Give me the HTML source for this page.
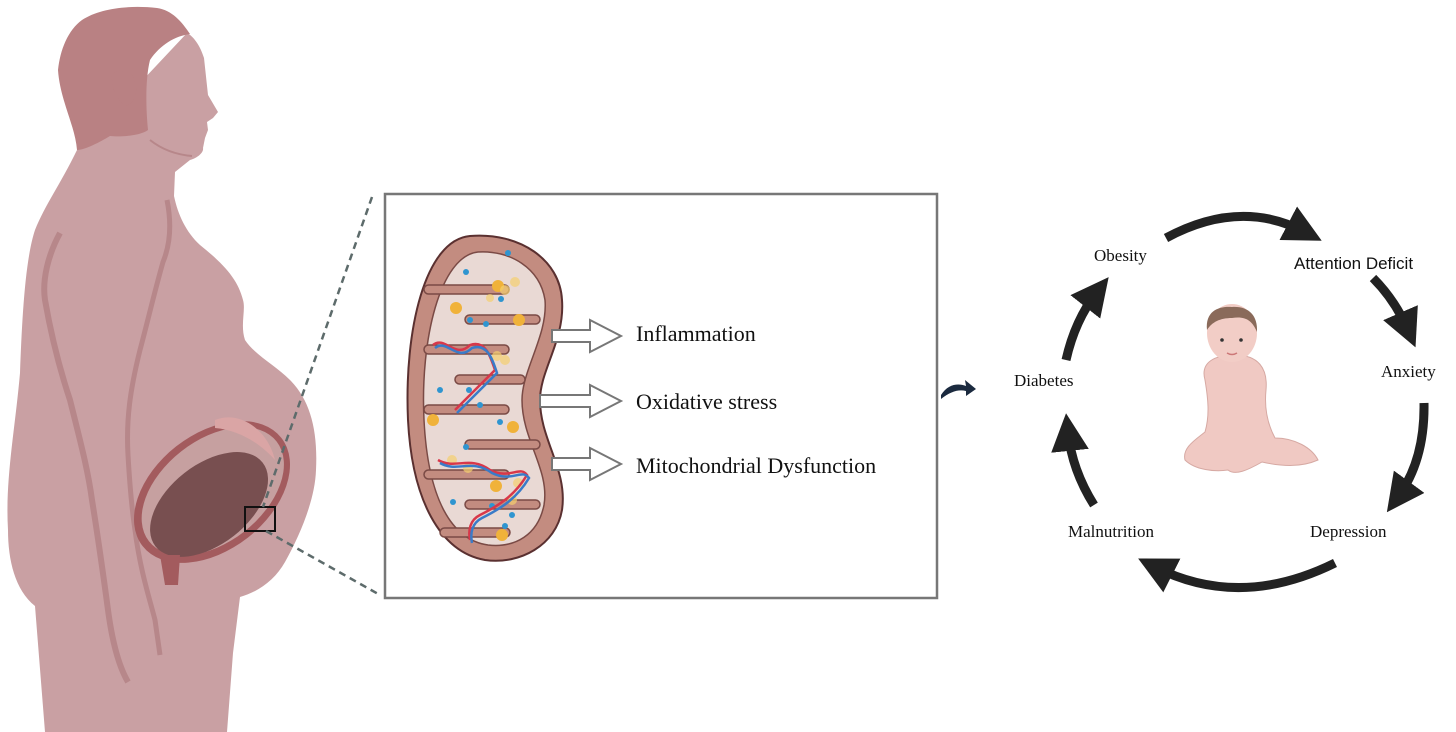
<!DOCTYPE html>
<html><head><meta charset="utf-8"><style>
html,body{margin:0;padding:0;background:#fff;}
svg{display:block;}
.t{font-family:"Liberation Serif",serif;fill:#111;}
</style></head><body>
<svg width="1456" height="732" viewBox="0 0 1456 732" xmlns="http://www.w3.org/2000/svg">
<defs>
<marker id="ah" viewBox="0 0 10 10" refX="5" refY="5" markerWidth="4.2" markerHeight="4.2" orient="auto" markerUnits="strokeWidth">
<path d="M0,0 L10,5 L0,10 z" fill="#222"/></marker>
</defs>
<!-- woman body -->
<path d="M77,150 C60,185 45,205 35,230 C25,260 22,320 20,373 C15,430 5,480 8,530 C8,560 15,590 35,606 L45,732 L227,732 L233,653 L240,597 C258,592 275,580 285,562 C300,535 315,500 316,470 C318,430 310,400 290,380 C275,365 255,355 245,340 C240,325 246,310 243,300 C238,280 225,265 200,245 C186,232 178,215 174,196 L175,172 L190,160 C198,158 204,152 203,148 L205,138 L208,130 L207,122 L213,118 L218,112 L208,95 L204,58 C200,45 193,36 187,33 Z" fill="#c9a0a3"/>
<!-- hair -->
<path d="M58,70 C60,50 68,30 82,20 C100,8 130,5 157,8 C172,10 182,22 190,34 C175,36 160,45 150,60 C145,80 146,110 148,130 C140,136 120,137 110,136 C100,142 85,150 77,150 C75,125 60,100 58,70 Z" fill="#b98183"/>
<!-- ear -->
<path d="M112,80 C110,70 122,68 132,75 C140,88 136,104 125,106 C118,100 113,92 112,80 Z" fill="#b98183"/>
<path d="M150,140 C165,152 180,155 192,156" fill="none" stroke="#b7878a" stroke-width="2"/>
<!-- arm outlines -->
<path d="M60,233 C48,255 42,280 45,300 C52,340 60,370 70,400 C80,440 88,470 92,500 C100,550 104,580 108,610 C112,640 118,665 128,682" fill="none" stroke="#b7878a" stroke-width="6"/>
<path d="M167,200 C172,225 170,245 163,262 C155,290 148,320 140,350 C130,390 126,420 128,455 C130,490 132,510 135,530 C140,570 150,600 155,620 L160,655" fill="none" stroke="#b7878a" stroke-width="5"/>
<!-- uterus -->
<g transform="rotate(-38 212 492)">
<ellipse cx="212" cy="492" rx="88" ry="58" fill="#a35b5e"/>
<ellipse cx="213" cy="492" rx="81" ry="51" fill="#c6a0a0"/>
<ellipse cx="202" cy="500" rx="68" ry="40" fill="#784f50"/>
</g>
<path d="M215,420 C240,410 268,430 275,460 C262,445 240,430 215,428 Z" fill="#daa5a5"/>
<path d="M160,555 L165,585 L178,585 L180,555 Z" fill="#a35b5e"/>
<rect x="245" y="507" width="30" height="24" fill="none" stroke="#111" stroke-width="2"/>
<!-- dashed zoom lines -->
<line x1="372" y1="197" x2="263" y2="507" stroke="#5d6b6b" stroke-width="2.5" stroke-dasharray="7,5"/>
<line x1="266" y1="531" x2="380" y2="595" stroke="#5d6b6b" stroke-width="2.5" stroke-dasharray="7,5"/>
<!-- box -->
<rect x="385" y="194" width="552" height="404" fill="#fff" stroke="#777" stroke-width="2.5"/>
<!-- mitochondrion -->
<path d="M470,236 C520,232 560,260 562,300 C565,340 540,370 540,400 C540,440 568,470 562,510 C556,545 520,565 485,560 C440,552 412,500 408,420 C404,330 425,240 470,236 Z" fill="#c38c80" stroke="#5a3030" stroke-width="2"/>
<path d="M478,252 C510,250 540,268 545,300 C548,335 522,370 522,400 C522,440 550,470 544,505 C538,535 515,548 488,545 C452,540 428,500 424,420 C420,340 440,256 478,252 Z" fill="#e9d9d4" stroke="#7a4a45" stroke-width="1.5"/>
<g fill="#c38c80" stroke="#7a4a45" stroke-width="1.5">
<rect x="424" y="285" width="85" height="9" rx="4.5"/>
<rect x="465" y="315" width="75" height="9" rx="4.5"/>
<rect x="424" y="345" width="85" height="9" rx="4.5"/>
<rect x="455" y="375" width="70" height="9" rx="4.5"/>
<rect x="424" y="405" width="85" height="9" rx="4.5"/>
<rect x="465" y="440" width="75" height="9" rx="4.5"/>
<rect x="424" y="470" width="85" height="9" rx="4.5"/>
<rect x="465" y="500" width="75" height="9" rx="4.5"/>
<rect x="440" y="528" width="70" height="9" rx="4.5"/>
</g>
<g fill="#f0b23a">
<circle cx="498" cy="286" r="6"/><circle cx="456" cy="308" r="6"/><circle cx="519" cy="320" r="6"/>
<circle cx="433" cy="420" r="6"/><circle cx="513" cy="427" r="6"/><circle cx="496" cy="486" r="6"/>
<circle cx="502" cy="535" r="6"/></g>
<g fill="#f5d070" opacity="0.7">
<circle cx="505" cy="290" r="5"/><circle cx="515" cy="282" r="5"/><circle cx="490" cy="298" r="4"/>
<circle cx="497" cy="356" r="5"/><circle cx="505" cy="360" r="5"/><circle cx="452" cy="460" r="5"/>
<circle cx="468" cy="468" r="5"/><circle cx="518" cy="483" r="5"/><circle cx="512" cy="500" r="5"/>
</g>
<g fill="#2f95d0">
<circle cx="508" cy="253" r="3"/><circle cx="466" cy="272" r="3"/><circle cx="501" cy="299" r="3"/>
<circle cx="470" cy="320" r="3"/><circle cx="486" cy="324" r="3"/><circle cx="469" cy="390" r="3"/>
<circle cx="440" cy="390" r="3"/><circle cx="480" cy="405" r="3"/><circle cx="500" cy="422" r="3"/>
<circle cx="466" cy="447" r="3"/><circle cx="453" cy="502" r="3"/><circle cx="492" cy="506" r="3"/>
<circle cx="512" cy="515" r="3"/><circle cx="505" cy="526" r="3"/></g>
<g fill="none" stroke-width="2.5">
<path d="M433,345 C445,335 455,360 470,345 C485,340 490,355 495,370 C480,385 470,395 455,410" stroke="#d8384a"/>
<path d="M435,348 C447,338 457,363 472,348 C487,343 492,358 497,373 C482,388 472,398 457,413" stroke="#3a7bc8"/>
<path d="M438,460 C455,470 470,455 490,470 C510,480 520,465 527,475 C515,495 500,505 480,515 C470,520 468,530 470,540" stroke="#d8384a"/>
<path d="M440,463 C457,473 472,458 492,473 C512,483 522,468 529,478 C517,498 502,508 482,518 C472,523 470,533 472,543" stroke="#3a7bc8"/>
</g>
<!-- hollow arrows -->
<g fill="#fff" stroke="#777" stroke-width="2">
<path d="M552,330 L590,330 L590,320 L621,336 L590,352 L590,342 L552,342 Z"/>
<path d="M540,395 L590,395 L590,385 L621,401 L590,417 L590,407 L540,407 Z"/>
<path d="M552,458 L590,458 L590,448 L621,464 L590,480 L590,470 L552,470 Z"/>
</g>
<text class="t" x="636" y="341" font-size="22">Inflammation</text>
<text class="t" x="636" y="409" font-size="22">Oxidative stress</text>
<text class="t" x="636" y="473" font-size="22">Mitochondrial Dysfunction</text>
<!-- small curved arrow -->
<path d="M941,395 C948,384 958,383 966,386 L965,380 L976,389 L966,396 L966,391 C958,389 950,392 941,399 Z" fill="#1b2a3f"/>
<!-- cycle arrows -->
<g fill="none" stroke="#222" stroke-width="9">
<path d="M1166,238 Q1240,198 1305,232" marker-end="url(#ah)"/>
<path d="M1373,278 Q1395,300 1408,330" marker-end="url(#ah)"/>
<path d="M1424,403 Q1425,460 1398,497" marker-end="url(#ah)"/>
<path d="M1335,563 Q1240,610 1155,567" marker-end="url(#ah)"/>
<path d="M1094,505 Q1072,470 1068,432" marker-end="url(#ah)"/>
<path d="M1066,360 Q1075,320 1097,292" marker-end="url(#ah)"/>
</g>
<text class="t" x="1094" y="261" font-size="17">Obesity</text>
<text x="1294" y="269" font-size="17" font-family="Liberation Sans,sans-serif" fill="#111">Attention Deficit</text>
<text class="t" x="1381" y="377" font-size="17">Anxiety</text>
<text class="t" x="1310" y="537" font-size="17">Depression</text>
<text class="t" x="1068" y="537" font-size="17">Malnutrition</text>
<text class="t" x="1014" y="386" font-size="17">Diabetes</text>
<!-- baby -->
<g>
<path d="M1205,380 C1200,362 1215,355 1235,355 C1258,355 1268,368 1266,390 C1264,410 1268,425 1275,438 C1295,438 1312,448 1318,460 C1300,468 1280,466 1262,462 C1248,470 1235,476 1228,470 C1215,472 1195,470 1185,460 C1182,448 1195,440 1205,432 C1210,415 1208,398 1205,380 Z" fill="#f0c9c3" stroke="#d6a9a3" stroke-width="1"/>
<ellipse cx="1232" cy="333" rx="25" ry="29" fill="#f2cdc6"/>
<path d="M1207,330 C1205,310 1220,306 1232,307 C1248,306 1258,315 1257,332 C1252,320 1245,316 1232,318 C1220,318 1212,322 1207,330 Z" fill="#8a6a5a"/>
<circle cx="1222" cy="340" r="1.8" fill="#333"/><circle cx="1241" cy="340" r="1.8" fill="#333"/>
<path d="M1227,353 Q1232,356 1237,353" stroke="#c77" stroke-width="1.5" fill="none"/>
</g>
</svg>
</body></html>
